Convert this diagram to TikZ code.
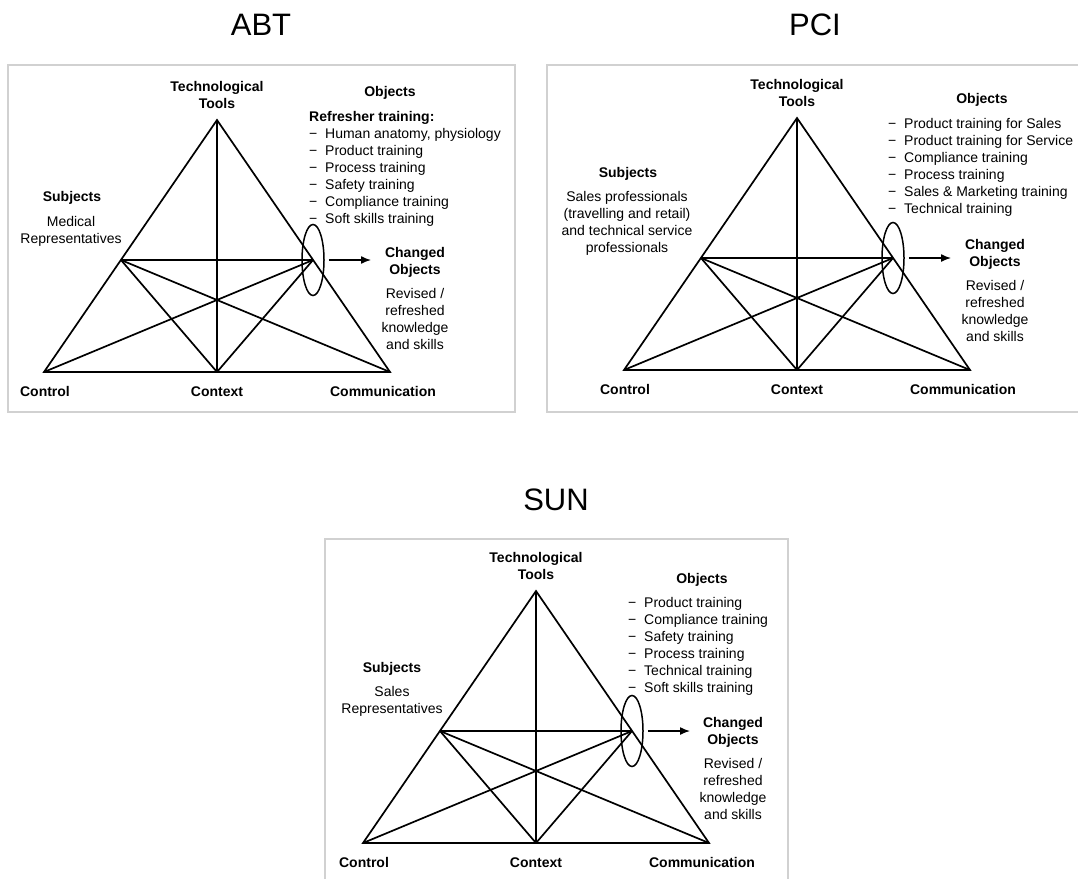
\documentclass[tikz,border=0pt]{standalone}
\usepackage{fontspec}
\setmainfont{Liberation Sans}
\usetikzlibrary{arrows.meta,shapes.geometric}

\newcommand{\itm}[1]{\makebox[16pt][l]{−}#1}

\tikzset{
  lbl/.style={font=\fontsize{14}{17}\selectfont, inner sep=0pt, align=center},
  hdr/.style={font=\fontsize{14}{17}\selectfont\bfseries, inner sep=0pt, align=center},
  lst/.style={font=\fontsize{14}{17}\selectfont, inner sep=0pt, align=left, anchor=north west},
  ttl/.style={font=\fontsize{31}{36}\selectfont, inner sep=0pt, anchor=base},
  frame/.style={draw=black!18, line width=2pt},
  tline/.style={line width=1.7pt},
  ring/.style={draw, ellipse, line width=1.5pt, inner sep=0pt, minimum width=22pt, minimum height=71pt},
  arr/.style={line width=1.4pt, -{Latex[length=10pt,width=8pt]}, shorten <=4pt}
}

\begin{document}
\begin{tikzpicture}[x=1pt,y=-1pt]
\useasboundingbox (0,0) rectangle (1078,879);
\draw[frame] (8,65) rectangle (515,412);
\draw[frame] (1078,65) -- (547,65) -- (547,412) -- (1078,412);
\draw[frame] (325,879) -- (325,539) -- (788,539) -- (788,879);
\node[ttl] (abt) at (261,35) {ABT};
\node[ttl] (pci) at (815,35) {PCI};
\node[ttl] (sun) at (556,510) {SUN};
\foreach \p/\ax/\ay in {abt/217/120, pci/797/118, sun/536/591}{
  \coordinate (\p-tools) at (\ax,\ay);
  \coordinate (\p-ctrl) at (\ax-173,\ay+252);
  \coordinate (\p-ctx) at (\ax,\ay+252);
  \coordinate (\p-comm) at (\ax+173,\ay+252);
  \coordinate (\p-subj) at (\ax-96,\ay+140);
  \coordinate (\p-obj) at (\ax+96,\ay+140);
  \coordinate (\p-to) at (\ax+154,\ay+140);
  \draw[tline] (\p-tools) -- (\p-ctrl) -- (\p-comm) -- cycle;
  \draw[tline] (\p-tools) -- (\p-ctx);
  \draw[tline] (\p-subj) -- (\p-obj);
  \draw[tline] (\p-subj) -- (\p-ctx);
  \draw[tline] (\p-subj) -- (\p-comm);
  \draw[tline] (\p-obj) -- (\p-ctrl);
  \draw[tline] (\p-obj) -- (\p-ctx);
  \node[ring] (\p-ring) at (\p-obj) {};
  \draw[arr] (\p-ring.east) -- (\p-to);
  \node[hdr, anchor=north] (\p-tt) at (\ax,\ay-39) {Technological\\Tools};
  \node[hdr, anchor=base] (\p-lctrl) at (\ax-172,\ay+276.5) {Control};
  \node[hdr, anchor=base] (\p-lctx) at (\ax,\ay+276.5) {Context};
  \node[hdr, anchor=base] (\p-lcomm) at (\ax+166,\ay+276.5) {Communication};
}
\node[hdr, anchor=base] (abt-subjects) at (72,201) {Subjects};
\node[lbl, anchor=north] (abt-who) at (71,216) {Medical\\Representatives};
\node[hdr, anchor=base] (abt-objects) at (390,96) {Objects};
\node[lst] (abt-list) at (309,111) {\textbf{Refresher training:}\\
  \itm{Human anatomy, physiology}\\ \itm{Product training}\\ \itm{Process training}\\
  \itm{Safety training}\\ \itm{Compliance training}\\ \itm{Soft skills training}};
\node[hdr, anchor=north] (abt-changed) at (415,247) {Changed\\Objects};
\node[lbl, anchor=north] (abt-result) at (415,288) {Revised /\\refreshed\\knowledge\\and skills};

\node[hdr, anchor=base] (pci-subjects) at (628,177) {Subjects};
\node[lbl, anchor=north] (pci-who) at (627,191) {Sales professionals\\(travelling and retail)\\and technical service\\professionals};
\node[hdr, anchor=base] (pci-objects) at (982,103) {Objects};
\node[lst] (pci-list) at (888,118) {\itm{Product training for Sales}\\
  \itm{Product training for Service}\\ \itm{Compliance training}\\ \itm{Process training}\\
  \itm{Sales \& Marketing training}\\ \itm{Technical training}};
\node[hdr, anchor=north] (pci-changed) at (995,239) {Changed\\Objects};
\node[lbl, anchor=north] (pci-result) at (995,280) {Revised /\\refreshed\\knowledge\\and skills};

\node[hdr, anchor=base] (sun-subjects) at (392,672) {Subjects};
\node[lbl, anchor=north] (sun-who) at (392,686) {Sales\\Representatives};
\node[hdr, anchor=base] (sun-objects) at (702,583) {Objects};
\node[lst] (sun-list) at (628,597) {\itm{Product training}\\
  \itm{Compliance training}\\ \itm{Safety training}\\ \itm{Process training}\\
  \itm{Technical training}\\ \itm{Soft skills training}};
\node[hdr, anchor=north] (sun-changed) at (733,717) {Changed\\Objects};
\node[lbl, anchor=north] (sun-result) at (733,758) {Revised /\\refreshed\\knowledge\\and skills};
\end{tikzpicture}
\end{document}
